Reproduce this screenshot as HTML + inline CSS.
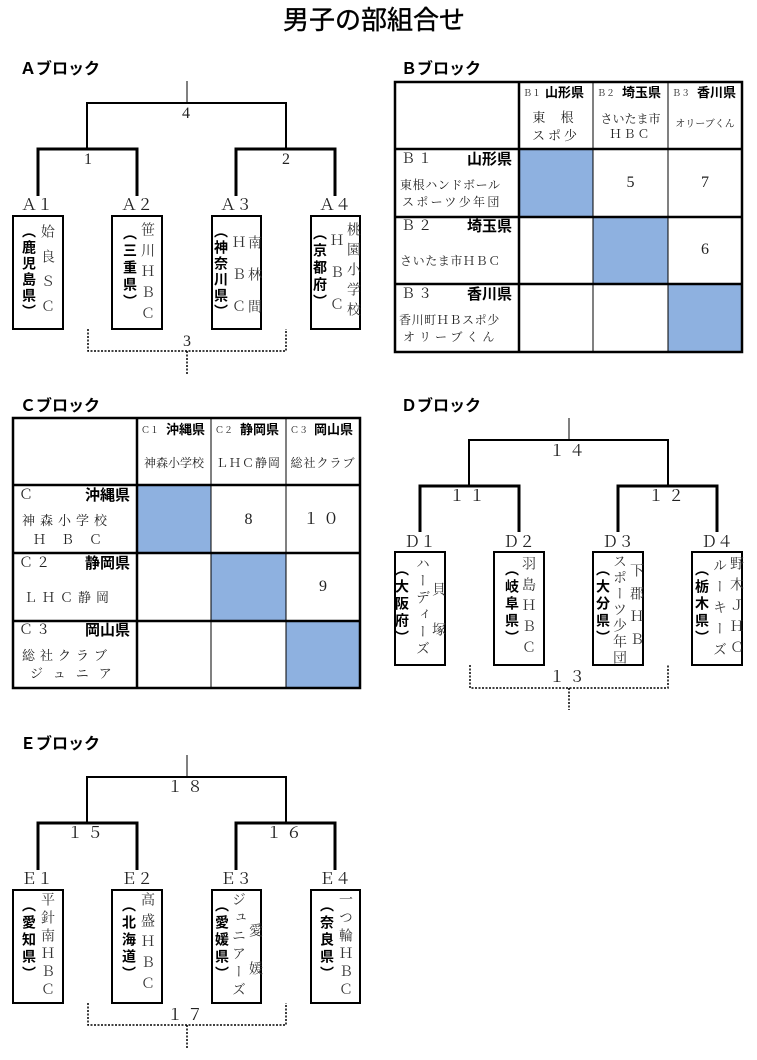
<!DOCTYPE html>
<html><head><meta charset="utf-8">
<style>
*{margin:0;padding:0}
body{width:757px;height:1060px;position:relative;background:#fff;overflow:hidden;color:#222}
.a{position:absolute;white-space:nowrap;line-height:1}
.s{font-family:"Liberation Serif","Noto Serif CJK SC",serif}
.g{font-family:"Liberation Sans","Noto Sans CJK JP",sans-serif;font-weight:bold;color:#000}
.v{position:absolute;writing-mode:vertical-rl;white-space:nowrap;line-height:1;font-family:"Liberation Serif","Noto Serif CJK SC",serif;color:#333}
.p{font-family:"Noto Sans CJK JP",sans-serif;font-weight:bold;color:#000;margin-left:2px}
.c{text-align:center}
</style></head><body>
<svg width="757" height="1060" style="position:absolute;left:0;top:0">
<g fill="none" stroke="#000">
<path d="M187 81V103" stroke-width="1"/>
<path d="M87 148V103H286V148" stroke-width="2"/>
<path d="M38 196V149H137V196M236 196V149H335V196" stroke-width="3"/>
<rect x="13" y="216" width="50" height="113" stroke-width="2"/>
<rect x="112" y="216" width="50" height="113" stroke-width="2"/>
<rect x="212" y="216" width="49" height="113" stroke-width="2"/>
<rect x="311" y="216" width="49" height="113" stroke-width="2"/>
<path d="M88 329V351H286V329M187 351V375" stroke-width="1.5" stroke-dasharray="2 1.5"/>
<path d="M187 755V777" stroke-width="1"/>
<path d="M87 822V777H286V822" stroke-width="2"/>
<path d="M38 870V823H137V870M236 870V823H335V870" stroke-width="3"/>
<rect x="13" y="890" width="50" height="113" stroke-width="2"/>
<rect x="112" y="890" width="50" height="113" stroke-width="2"/>
<rect x="212" y="890" width="49" height="113" stroke-width="2"/>
<rect x="311" y="890" width="49" height="113" stroke-width="2"/>
<path d="M88 1003V1025H286V1003M187 1025V1049" stroke-width="1.5" stroke-dasharray="2 1.5"/>
<path d="M569 418V440" stroke-width="1"/>
<path d="M469 485V440H668V485" stroke-width="2"/>
<path d="M420 532V486H519V532M618 532V486H717V532" stroke-width="3"/>
<rect x="395" y="552" width="50" height="113" stroke-width="2"/>
<rect x="494" y="552" width="50" height="113" stroke-width="2"/>
<rect x="593" y="552" width="50" height="113" stroke-width="2"/>
<rect x="692" y="552" width="50" height="113" stroke-width="2"/>
<path d="M470 665V688H668V665M569 688V710" stroke-width="1.5" stroke-dasharray="2 1.5"/>
</g>
<g>
<rect x="519" y="149" width="74" height="68" fill="#8eb1e0"/>
<rect x="593" y="217" width="75" height="67" fill="#8eb1e0"/>
<rect x="668" y="284" width="74" height="68" fill="#8eb1e0"/>
<g fill="none" stroke="#000">
<rect x="395" y="82" width="347" height="270" stroke-width="2.5"/>
<path d="M519 82V352" stroke-width="2.5"/>
<path d="M593 82V352M668 82V352" stroke-width="1"/>
<path d="M395 149H742M395 217H742M395 284H742" stroke-width="2.5"/>
</g>
<rect x="137" y="485" width="74" height="68" fill="#8eb1e0"/>
<rect x="211" y="553" width="75" height="68" fill="#8eb1e0"/>
<rect x="286" y="621" width="74" height="67" fill="#8eb1e0"/>
<g fill="none" stroke="#000">
<rect x="13" y="418" width="347" height="270" stroke-width="2.5"/>
<path d="M137 418V688" stroke-width="2.5"/>
<path d="M211 418V688M286 418V688" stroke-width="1"/>
<path d="M13 485H360M13 553H360M13 621H360" stroke-width="2.5"/>
</g>
</g>
</svg>

<div class="a g" style="left:283px;top:7px;font-size:26px;font-weight:normal;-webkit-text-stroke:0.4px #000">男子の部組合せ</div>
<div class="a g" style="left:20px;top:62px;font-size:16px">Ａブロック</div>
<div class="a g" style="left:401px;top:62px;font-size:16px">Ｂブロック</div>
<div class="a g" style="left:20px;top:399px;font-size:16px">Ｃブロック</div>
<div class="a g" style="left:401px;top:399px;font-size:16px">Ｄブロック</div>
<div class="a g" style="left:20px;top:737px;font-size:16px">Ｅブロック</div>

<div class="a s" style="left:182px;top:106px;font-size:16px">4</div>
<div class="a s" style="left:84px;top:152px;font-size:16px">1</div>
<div class="a s" style="left:282px;top:152px;font-size:16px">2</div>
<div class="a s" style="left:183px;top:334px;font-size:16px">3</div>
<div class="a s c" style="left:7px;top:198px;width:60px;font-size:16px">Ａ１</div>
<div class="a s c" style="left:107px;top:198px;width:60px;font-size:16px">Ａ２</div>
<div class="a s c" style="left:206px;top:198px;width:60px;font-size:16px">Ａ３</div>
<div class="a s c" style="left:305px;top:198px;width:60px;font-size:16px">Ａ４</div>
<div class="v p" style="left:20px;top:224px;font-size:14px;letter-spacing:2px">（鹿児島県）</div>
<div class="v" style="left:39px;top:224px;font-size:14px;letter-spacing:11px">姶良ＳＣ</div>
<div class="v p" style="left:121px;top:226px;font-size:14px;letter-spacing:3px">（三重県）</div>
<div class="v" style="left:139px;top:222px;font-size:14px;letter-spacing:7px">笹川ＨＢＣ</div>
<div class="v p" style="left:212px;top:224px;font-size:14px;letter-spacing:2px">（神奈川県）</div>
<div class="v" style="left:230px;top:235px;font-size:14px;letter-spacing:18px">ＨＢＣ</div>
<div class="v" style="left:246px;top:235px;font-size:14px;letter-spacing:18px">南林間</div>
<div class="v p" style="left:311px;top:226px;font-size:14px;letter-spacing:3px">（京都府）</div>
<div class="v" style="left:328px;top:233px;font-size:14px;letter-spacing:18px">ＨＢＣ</div>
<div class="v" style="left:345px;top:222px;font-size:14px;letter-spacing:6px">桃園小学校</div>

<div class="a s c" style="left:157px;top:780px;width:60px;font-size:16px;letter-spacing:4px">１８</div>
<div class="a s c" style="left:57px;top:826px;width:60px;font-size:16px;letter-spacing:4px">１５</div>
<div class="a s c" style="left:256px;top:826px;width:60px;font-size:16px;letter-spacing:4px">１６</div>
<div class="a s c" style="left:157px;top:1008px;width:60px;font-size:16px;letter-spacing:4px">１７</div>
<div class="a s c" style="left:7px;top:872px;width:60px;font-size:16px">Ｅ１</div>
<div class="a s c" style="left:107px;top:872px;width:60px;font-size:16px">Ｅ２</div>
<div class="a s c" style="left:206px;top:872px;width:60px;font-size:16px">Ｅ３</div>
<div class="a s c" style="left:305px;top:872px;width:60px;font-size:16px">Ｅ４</div>
<div class="v p" style="left:20px;top:898px;font-size:14px;letter-spacing:3px">（愛知県）</div>
<div class="v" style="left:39px;top:892px;font-size:14px;letter-spacing:4px">平針南ＨＢＣ</div>
<div class="v p" style="left:120px;top:898px;font-size:14px;letter-spacing:3px">（北海道）</div>
<div class="v" style="left:139px;top:892px;font-size:14px;letter-spacing:7px">高盛ＨＢＣ</div>
<div class="v p" style="left:213px;top:898px;font-size:14px;letter-spacing:3px">（愛媛県）</div>
<div class="v" style="left:230px;top:892px;font-size:14px;letter-spacing:4px">ジュニアーズ</div>
<div class="v" style="left:247px;top:923px;font-size:14px;letter-spacing:24px">愛媛</div>
<div class="v p" style="left:318px;top:898px;font-size:14px;letter-spacing:3px">（奈良県）</div>
<div class="v" style="left:337px;top:892px;font-size:14px;letter-spacing:4px">一つ輪ＨＢＣ</div>

<div class="a s c" style="left:539px;top:444px;width:60px;font-size:16px;letter-spacing:4px">１４</div>
<div class="a s c" style="left:439px;top:489px;width:60px;font-size:16px;letter-spacing:4px">１１</div>
<div class="a s c" style="left:638px;top:489px;width:60px;font-size:16px;letter-spacing:4px">１２</div>
<div class="a s c" style="left:539px;top:670px;width:60px;font-size:16px;letter-spacing:4px">１３</div>
<div class="a s c" style="left:390px;top:535px;width:60px;font-size:16px">Ｄ１</div>
<div class="a s c" style="left:489px;top:535px;width:60px;font-size:16px">Ｄ２</div>
<div class="a s c" style="left:588px;top:535px;width:60px;font-size:16px">Ｄ３</div>
<div class="a s c" style="left:687px;top:535px;width:60px;font-size:16px">Ｄ４</div>
<div class="v p" style="left:393px;top:562px;font-size:14px;letter-spacing:3px">（大阪府）</div>
<div class="v" style="left:414px;top:556px;font-size:14px;letter-spacing:3px">ハーディーズ</div>
<div class="v" style="left:430px;top:582px;font-size:14px;letter-spacing:26px">貝塚</div>
<div class="v p" style="left:503px;top:562px;font-size:14px;letter-spacing:3px">（岐阜県）</div>
<div class="v" style="left:520px;top:556px;font-size:14px;letter-spacing:7px">羽島ＨＢＣ</div>
<div class="v p" style="left:594px;top:562px;font-size:14px;letter-spacing:3px">（大分県）</div>
<div class="v" style="left:611px;top:554px;font-size:14px;letter-spacing:2px">スポーツ少年団</div>
<div class="v" style="left:628px;top:563px;font-size:14px;letter-spacing:9px">下郡ＨＢ</div>
<div class="v p" style="left:693px;top:562px;font-size:14px;letter-spacing:3px">（栃木県）</div>
<div class="v" style="left:711px;top:558px;font-size:14px;letter-spacing:7px">ルーキーズ</div>
<div class="v" style="left:728px;top:556px;font-size:14px;letter-spacing:7px">野木ＪＨＣ</div>

<div class="a s" style="left:523px;top:89px;font-size:9px">Ｂ１</div>
<div class="a g" style="left:545px;top:86px;font-size:13px">山形県</div>
<div class="a s" style="left:597px;top:89px;font-size:9px">Ｂ２</div>
<div class="a g" style="left:622px;top:86px;font-size:13px">埼玉県</div>
<div class="a s" style="left:672px;top:89px;font-size:9px">Ｂ３</div>
<div class="a g" style="left:697px;top:86px;font-size:13px">香川県</div>
<div class="a s c" style="left:519px;top:111px;width:74px;font-size:13px;letter-spacing:6px">東 根</div>
<div class="a s c" style="left:519px;top:129px;width:74px;font-size:13px;letter-spacing:3px">スポ少</div>
<div class="a s c" style="left:593px;top:113px;width:75px;font-size:12px">さいたま市</div>
<div class="a s c" style="left:593px;top:128px;width:75px;font-size:12px;letter-spacing:2px">ＨＢＣ</div>
<div class="a s c" style="left:668px;top:120px;width:74px;font-size:10px">オリーブくん</div>

<div class="a s" style="left:401px;top:153px;font-size:14px;letter-spacing:3px">Ｂ１</div>
<div class="a g" style="left:467px;top:152px;font-size:15px">山形県</div>
<div class="a s" style="left:400px;top:179px;font-size:12px;letter-spacing:0.6px">東根ハンドボール</div>
<div class="a s" style="left:402px;top:196px;font-size:12px;letter-spacing:2.3px">スポーツ少年団</div>
<div class="a s" style="left:401px;top:220px;font-size:14px;letter-spacing:3px">Ｂ２</div>
<div class="a g" style="left:467px;top:219px;font-size:15px">埼玉県</div>
<div class="a s" style="left:400px;top:255px;font-size:12px;letter-spacing:0.6px">さいたま市ＨＢＣ</div>
<div class="a s" style="left:401px;top:288px;font-size:14px;letter-spacing:3px">Ｂ３</div>
<div class="a g" style="left:467px;top:287px;font-size:15px">香川県</div>
<div class="a s" style="left:399px;top:314px;font-size:12px;letter-spacing:0.6px">香川町ＨＢスポ少</div>
<div class="a s" style="left:403px;top:331px;font-size:12px;letter-spacing:4px">オリーブくん</div>
<div class="a s c" style="left:593px;top:175px;width:75px;font-size:16px">5</div>
<div class="a s c" style="left:668px;top:175px;width:74px;font-size:16px">7</div>
<div class="a s c" style="left:668px;top:242px;width:74px;font-size:16px">6</div>

<div class="a s" style="left:141px;top:426px;font-size:9px">Ｃ１</div>
<div class="a g" style="left:166px;top:423px;font-size:13px">沖縄県</div>
<div class="a s" style="left:215px;top:426px;font-size:9px">Ｃ２</div>
<div class="a g" style="left:240px;top:423px;font-size:13px">静岡県</div>
<div class="a s" style="left:290px;top:426px;font-size:9px">Ｃ３</div>
<div class="a g" style="left:314px;top:423px;font-size:13px">岡山県</div>
<div class="a s c" style="left:137px;top:457px;width:74px;font-size:12px">神森小学校</div>
<div class="a s c" style="left:211px;top:457px;width:75px;font-size:12px;letter-spacing:1px">ＬＨＣ静岡</div>
<div class="a s c" style="left:286px;top:457px;width:74px;font-size:12px;letter-spacing:1px">総社クラブ</div>

<div class="a s" style="left:19px;top:489px;font-size:14px">Ｃ</div>
<div class="a g" style="left:85px;top:488px;font-size:15px">沖縄県</div>
<div class="a s" style="left:22px;top:514px;font-size:13px;letter-spacing:5px">神森小学校</div>
<div class="a s" style="left:33px;top:533px;font-size:13px;letter-spacing:15px">ＨＢＣ</div>
<div class="a s" style="left:19px;top:557px;font-size:14px;letter-spacing:3px">Ｃ２</div>
<div class="a g" style="left:85px;top:556px;font-size:15px">静岡県</div>
<div class="a s" style="left:24px;top:591px;font-size:13px;letter-spacing:5px">ＬＨＣ静岡</div>
<div class="a s" style="left:19px;top:624px;font-size:14px;letter-spacing:3px">Ｃ３</div>
<div class="a g" style="left:85px;top:623px;font-size:15px">岡山県</div>
<div class="a s" style="left:22px;top:649px;font-size:13px;letter-spacing:5px">総社クラブ</div>
<div class="a s" style="left:30px;top:667px;font-size:13px;letter-spacing:10px">ジュニア</div>
<div class="a s c" style="left:211px;top:512px;width:75px;font-size:16px">8</div>
<div class="a s c" style="left:286px;top:512px;width:74px;font-size:16px;letter-spacing:4px">１０</div>
<div class="a s c" style="left:286px;top:579px;width:74px;font-size:16px">9</div>
</body></html>
